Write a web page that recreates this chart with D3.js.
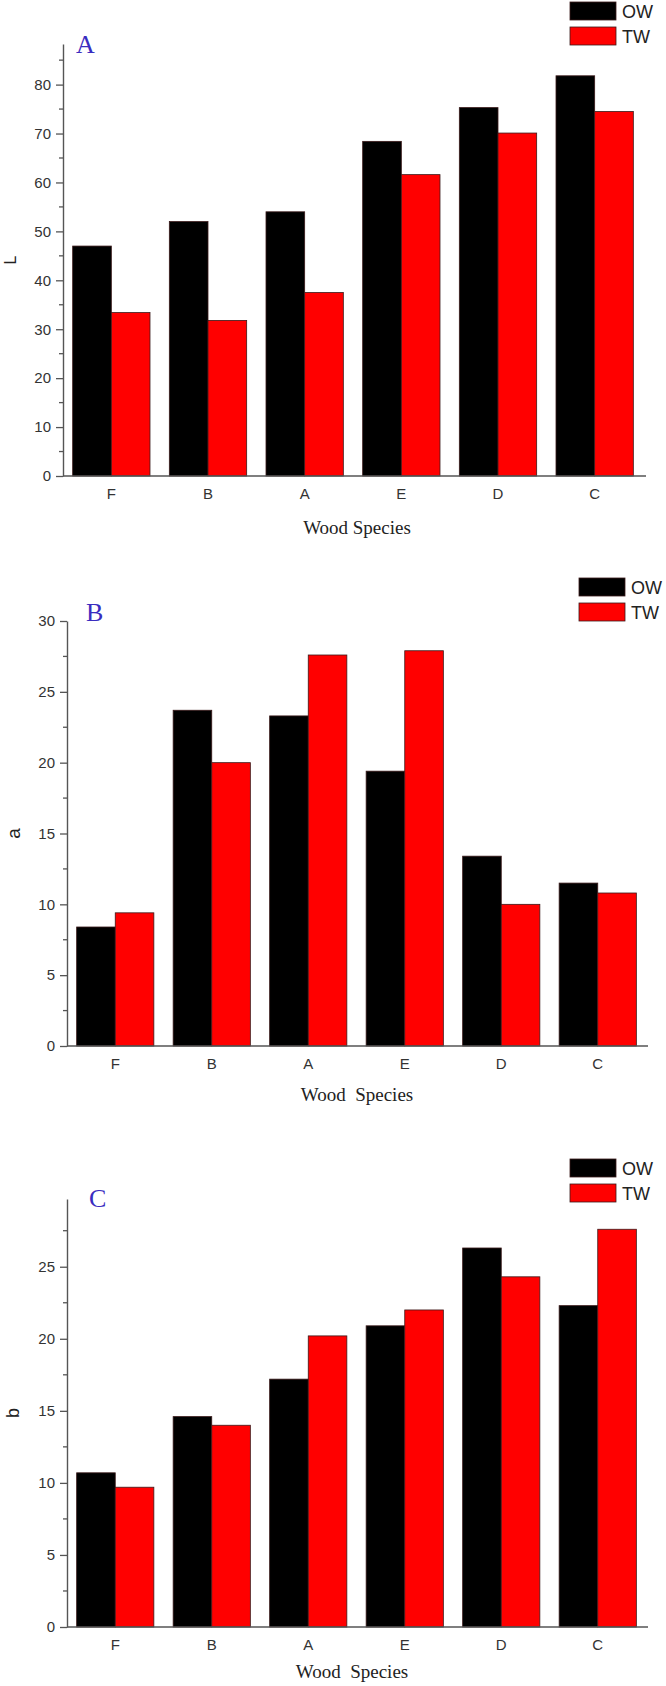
<!DOCTYPE html>
<html>
<head>
<meta charset="utf-8">
<script src="https://cdn.jsdelivr.net/npm/d3@7"></script>
<style>
  body { margin: 0; background: #fff; }
  svg { display: block; }
  text { white-space: pre; }
</style>
</head>
<body>
<div id="chart"></div>
<script>
// values
const species = ["F", "B", "A", "E", "D", "C"];
const seriesNames = ["OW", "TW"];
const seriesColors = ["#000000", "#ff0000"];

const L_OW = [47.0, 52.0, 54.0, 68.4, 75.3, 81.8];
const L_TW = [33.4, 31.8, 37.5, 61.6, 70.1, 74.5];
const a_OW = [8.4, 23.7, 23.3, 19.4, 13.4, 11.5];
const a_TW = [9.4, 20.0, 27.6, 27.9, 10.0, 10.8];
const b_OW = [10.7, 14.6, 17.2, 20.9, 26.3, 22.3];
const b_TW = [9.7, 14.0, 20.2, 22.0, 24.3, 27.6];

const L_ticks = [0, 10, 20, 30, 40, 50, 60, 70, 80];
const a_ticks = [0, 5, 10, 15, 20, 25, 30];
const b_ticks = [0, 5, 10, 15, 20, 25];

let width = 666, height = 1686;

let svg = d3.select("#chart")
    .append("svg")
    .attr("width", width)
    .attr("height", height);

// one entry per panel: layout lives here, values come from the arrays above
let panels = [
  { letter: "A", ylab: "L", ow: L_OW, tw: L_TW, ticks: L_ticks, step: 10, max: 88.3,
    left: 63, y0: 476, yTop: 44, right: 643, axisEnd: 646, ylabX: 16, ylabSize: 16,
    letterX: 76, letterY: 53, legX: 570, legY: 2, xTitle: "Wood Species", xTitleX: 357, xTitleY: 534 },
  { letter: "B", ylab: "a", ow: a_OW, tw: a_TW, ticks: a_ticks, step: 5, max: 30,
    left: 67, y0: 1046, yTop: 621, right: 646, axisEnd: 648, ylabX: 20, ylabSize: 19,
    letterX: 86, letterY: 621, legX: 579, legY: 578, xTitle: "Wood  Species", xTitleX: 357, xTitleY: 1101 },
  { letter: "C", ylab: "b", ow: b_OW, tw: b_TW, ticks: b_ticks, step: 5, max: 29.7,
    left: 67, y0: 1627, yTop: 1199, right: 646, axisEnd: 648, ylabX: 19, ylabSize: 18,
    letterX: 89, letterY: 1207, legX: 570, legY: 1159, xTitle: "Wood  Species", xTitleX: 352, xTitleY: 1678 }
];

panels.forEach(function(p) {
  let g = svg.append("g");

  let x0 = d3.scaleBand()
      .domain(species)
      .range([p.left, p.right])
      .paddingInner(0.2)
      .paddingOuter(0.1);

  let x1 = d3.scaleBand()
      .domain(seriesNames)
      .range([0, x0.bandwidth()]);

  let y = d3.scaleLinear()
      .domain([0, p.max])
      .range([p.y0, p.yTop]);

  let color = d3.scaleOrdinal().domain(seriesNames).range(seriesColors);

  let rows = species.map(function(s, i) {
    return { sp: s, vals: [{ k: "OW", v: p.ow[i] }, { k: "TW", v: p.tw[i] }] };
  });

  // bars
  g.selectAll("g.grp")
      .data(rows)
      .enter()
      .append("g")
      .attr("transform", d => `translate(${x0(d.sp)},0)`)
      .selectAll("rect")
      .data(d => d.vals)
      .enter()
      .append("rect")
      .attr("x", d => x1(d.k))
      .attr("y", d => y(d.v))
      .attr("width", x1.bandwidth())
      .attr("height", d => y(0) - y(d.v))
      .attr("fill", d => color(d.k))
      .attr("stroke", "#3a1a1a")
      .attr("stroke-width", 0.8);

  // y axis with major ticks + minor half-step ticks
  let minor = [];
  for (let v = p.step / 2; v < p.max; v += p.step) minor.push(v);

  let yAxis = g.append("g")
      .attr("transform", `translate(${p.left},0)`)
      .call(d3.axisLeft(y).tickValues(p.ticks).tickSize(7).tickPadding(5).tickSizeOuter(0));
  yAxis.select(".domain").attr("stroke", "#555").attr("stroke-width", 1.4);
  yAxis.selectAll(".tick line").attr("stroke", "#555").attr("stroke-width", 1.3);
  yAxis.selectAll(".tick text")
      .attr("fill", "#333")
      .style("font-family", "Liberation Sans, Arial, sans-serif")
      .style("font-size", "15px");

  g.append("g")
      .selectAll("line")
      .data(minor)
      .enter()
      .append("line")
      .attr("x1", p.left - 4)
      .attr("x2", p.left)
      .attr("y1", d => y(d))
      .attr("y2", d => y(d))
      .attr("stroke", "#555")
      .attr("stroke-width", 1.3);

  // x axis: line + category labels, no ticks
  g.append("line")
      .attr("x1", p.left)
      .attr("x2", p.axisEnd)
      .attr("y1", p.y0)
      .attr("y2", p.y0)
      .attr("stroke", "#555")
      .attr("stroke-width", 1.4);

  g.append("g")
      .selectAll("text")
      .data(species)
      .enter()
      .append("text")
      .attr("x", d => x0(d) + x0.bandwidth() / 2)
      .attr("y", p.y0 + 23)
      .attr("text-anchor", "middle")
      .attr("fill", "#333")
      .style("font-family", "Liberation Sans, Arial, sans-serif")
      .style("font-size", "15px")
      .text(d => d);

  // titles
  g.append("text")
      .attr("x", p.xTitleX)
      .attr("y", p.xTitleY)
      .attr("text-anchor", "middle")
      .attr("fill", "#222")
      .style("font-family", "Liberation Serif, Times New Roman, serif")
      .style("font-size", "19px")
      .text(p.xTitle);

  g.append("text")
      .attr("transform", `translate(${p.ylabX}, ${(p.y0 + p.yTop) / 2}) rotate(-90)`)
      .attr("text-anchor", "middle")
      .attr("fill", "#222")
      .style("font-family", "Liberation Sans, Arial, sans-serif")
      .style("font-size", p.ylabSize + "px")
      .text(p.ylab);

  g.append("text")
      .attr("x", p.letterX)
      .attr("y", p.letterY)
      .attr("fill", "#3a2cc0")
      .style("font-family", "Liberation Serif, Times New Roman, serif")
      .style("font-size", "26px")
      .text(p.letter);

  // legend
  let leg = g.append("g").attr("transform", `translate(${p.legX},${p.legY})`);
  seriesNames.forEach(function(s, i) {
    leg.append("rect")
        .attr("x", 0)
        .attr("y", i * 25)
        .attr("width", 46)
        .attr("height", 18)
        .attr("fill", color(s))
        .attr("stroke", "#3a1a1a")
        .attr("stroke-width", 0.8);
    leg.append("text")
        .attr("x", 52)
        .attr("y", i * 25 + 15.5)
        .attr("fill", "#222")
        .style("font-family", "Liberation Sans, Arial, sans-serif")
        .style("font-size", "18px")
        .text(s);
  });
});
</script>
</body>
</html>
